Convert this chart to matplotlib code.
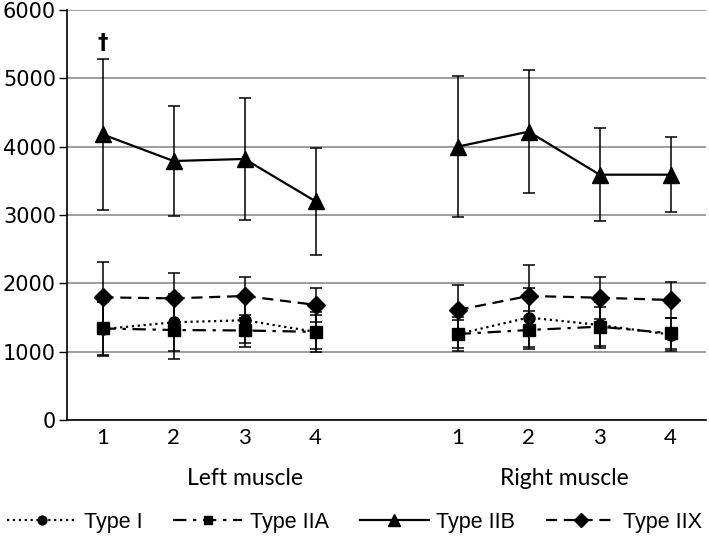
import numpy as np
import matplotlib
matplotlib.use("Agg")
import matplotlib.pyplot as plt

plt.rcParams['font.family'] = ['Lato', 'DejaVu Sans']

# categories: 4 time points per side, blank slot between the two muscles
tick_labels = ["1", "2", "3", "4", "", "1", "2", "3", "4"]
groups = ["Left muscle", "Right muscle"]

# values (left 1-4, right 1-4)
type1_left = [1330, 1430, 1460, 1290]
type1_left_err = [400, 420, 390, 290]
type1_right = [1258, 1500, 1390, 1250]
type1_right_err = [210, 430, 340, 240]

type2a_left = [1340, 1317, 1310, 1290]
type2a_left_err = [390, 430, 180, 250]
type2a_right = [1258, 1317, 1366, 1268]
type2a_right_err = [250, 280, 290, 230]

type2b_left = [4180, 3790, 3820, 3200]
type2b_left_err = [1100, 800, 890, 780]
type2b_right = [4000, 4220, 3590, 3590]
type2b_right_err = [1030, 900, 680, 550]

type2x_left = [1795, 1780, 1815, 1685]
type2x_left_err = [520, 375, 275, 250]
type2x_right = [1610, 1815, 1790, 1756]
type2x_right_err = [360, 460, 310, 265]


def join(left, right):
    # nan in the blank slot so the line breaks between muscles
    return np.array(list(left) + [np.nan] + list(right), dtype=float)


series = [
    ("Type I", join(type1_left, type1_right), join(type1_left_err, type1_right_err), "o", ":", 8),
    ("Type IIA", join(type2a_left, type2a_right), join(type2a_left_err, type2a_right_err), "s", (0, (6, 3, 1.5, 3)), 8),
    ("Type IIB", join(type2b_left, type2b_right), join(type2b_left_err, type2b_right_err), "^", "-", 11),
    ("Type IIX", join(type2x_left, type2x_right), join(type2x_left_err, type2x_right_err), "D", (0, (5, 3)), 9),
]

x = np.arange(len(tick_labels))

fig = plt.figure(figsize=(7.09, 5.40), dpi=100)
ax = fig.add_axes([0.0945, 0.2222, 0.9015, 0.7593])

for name, vals, errs, mk, ls, ms in series:
    # error bars first, thin black
    ax.errorbar(x, vals, yerr=errs, fmt="none", ecolor="black", elinewidth=1.1,
                capsize=4.5, capthick=1.1, zorder=3)
    ax.plot(x, vals, color="black", linestyle=ls, linewidth=1.6, marker=mk,
            markersize=ms, label=name, zorder=4)

ax.set_xlim(-0.5, 8.5)
ax.set_ylim(0, 6000)
ax.set_yticks(np.arange(0, 6001, 1000))
ax.set_xticks(x)
ax.set_xticklabels(tick_labels)
ax.tick_params(axis="x", length=0, labelsize=16, pad=6)
ax.tick_params(axis="y", length=6, width=1, labelsize=15, direction="out", pad=2)
for lab in ax.get_yticklabels():
    lab.set_family("DejaVu Sans")

ax.grid(axis="y", color="#8c8c8c", linewidth=1.2)
ax.set_axisbelow(True)
for s in ["top", "right"]:
    ax.spines[s].set_visible(False)
ax.spines["left"].set_linewidth(1.2)
ax.spines["bottom"].set_linewidth(1.2)

# group labels under the tick labels
ax.text(2, -860, groups[0], ha="center", va="center", fontsize=16.5)
ax.text(6.5, -860, groups[1], ha="center", va="center", fontsize=16.5)

# significance mark
ax.text(0, 5520, "\u2020", ha="center", va="center", fontsize=15, fontweight="bold",
        family=["DejaVu Sans"])

fig.legend(loc="center", bbox_to_anchor=(0.5, 0.033), ncol=4, frameon=False,
           prop={"family": "Liberation Sans", "size": 15.5}, markerscale=0.8,
           handlelength=3.2, columnspacing=1.45, handletextpad=0.35)

fig.savefig("out.png", dpi=100)
